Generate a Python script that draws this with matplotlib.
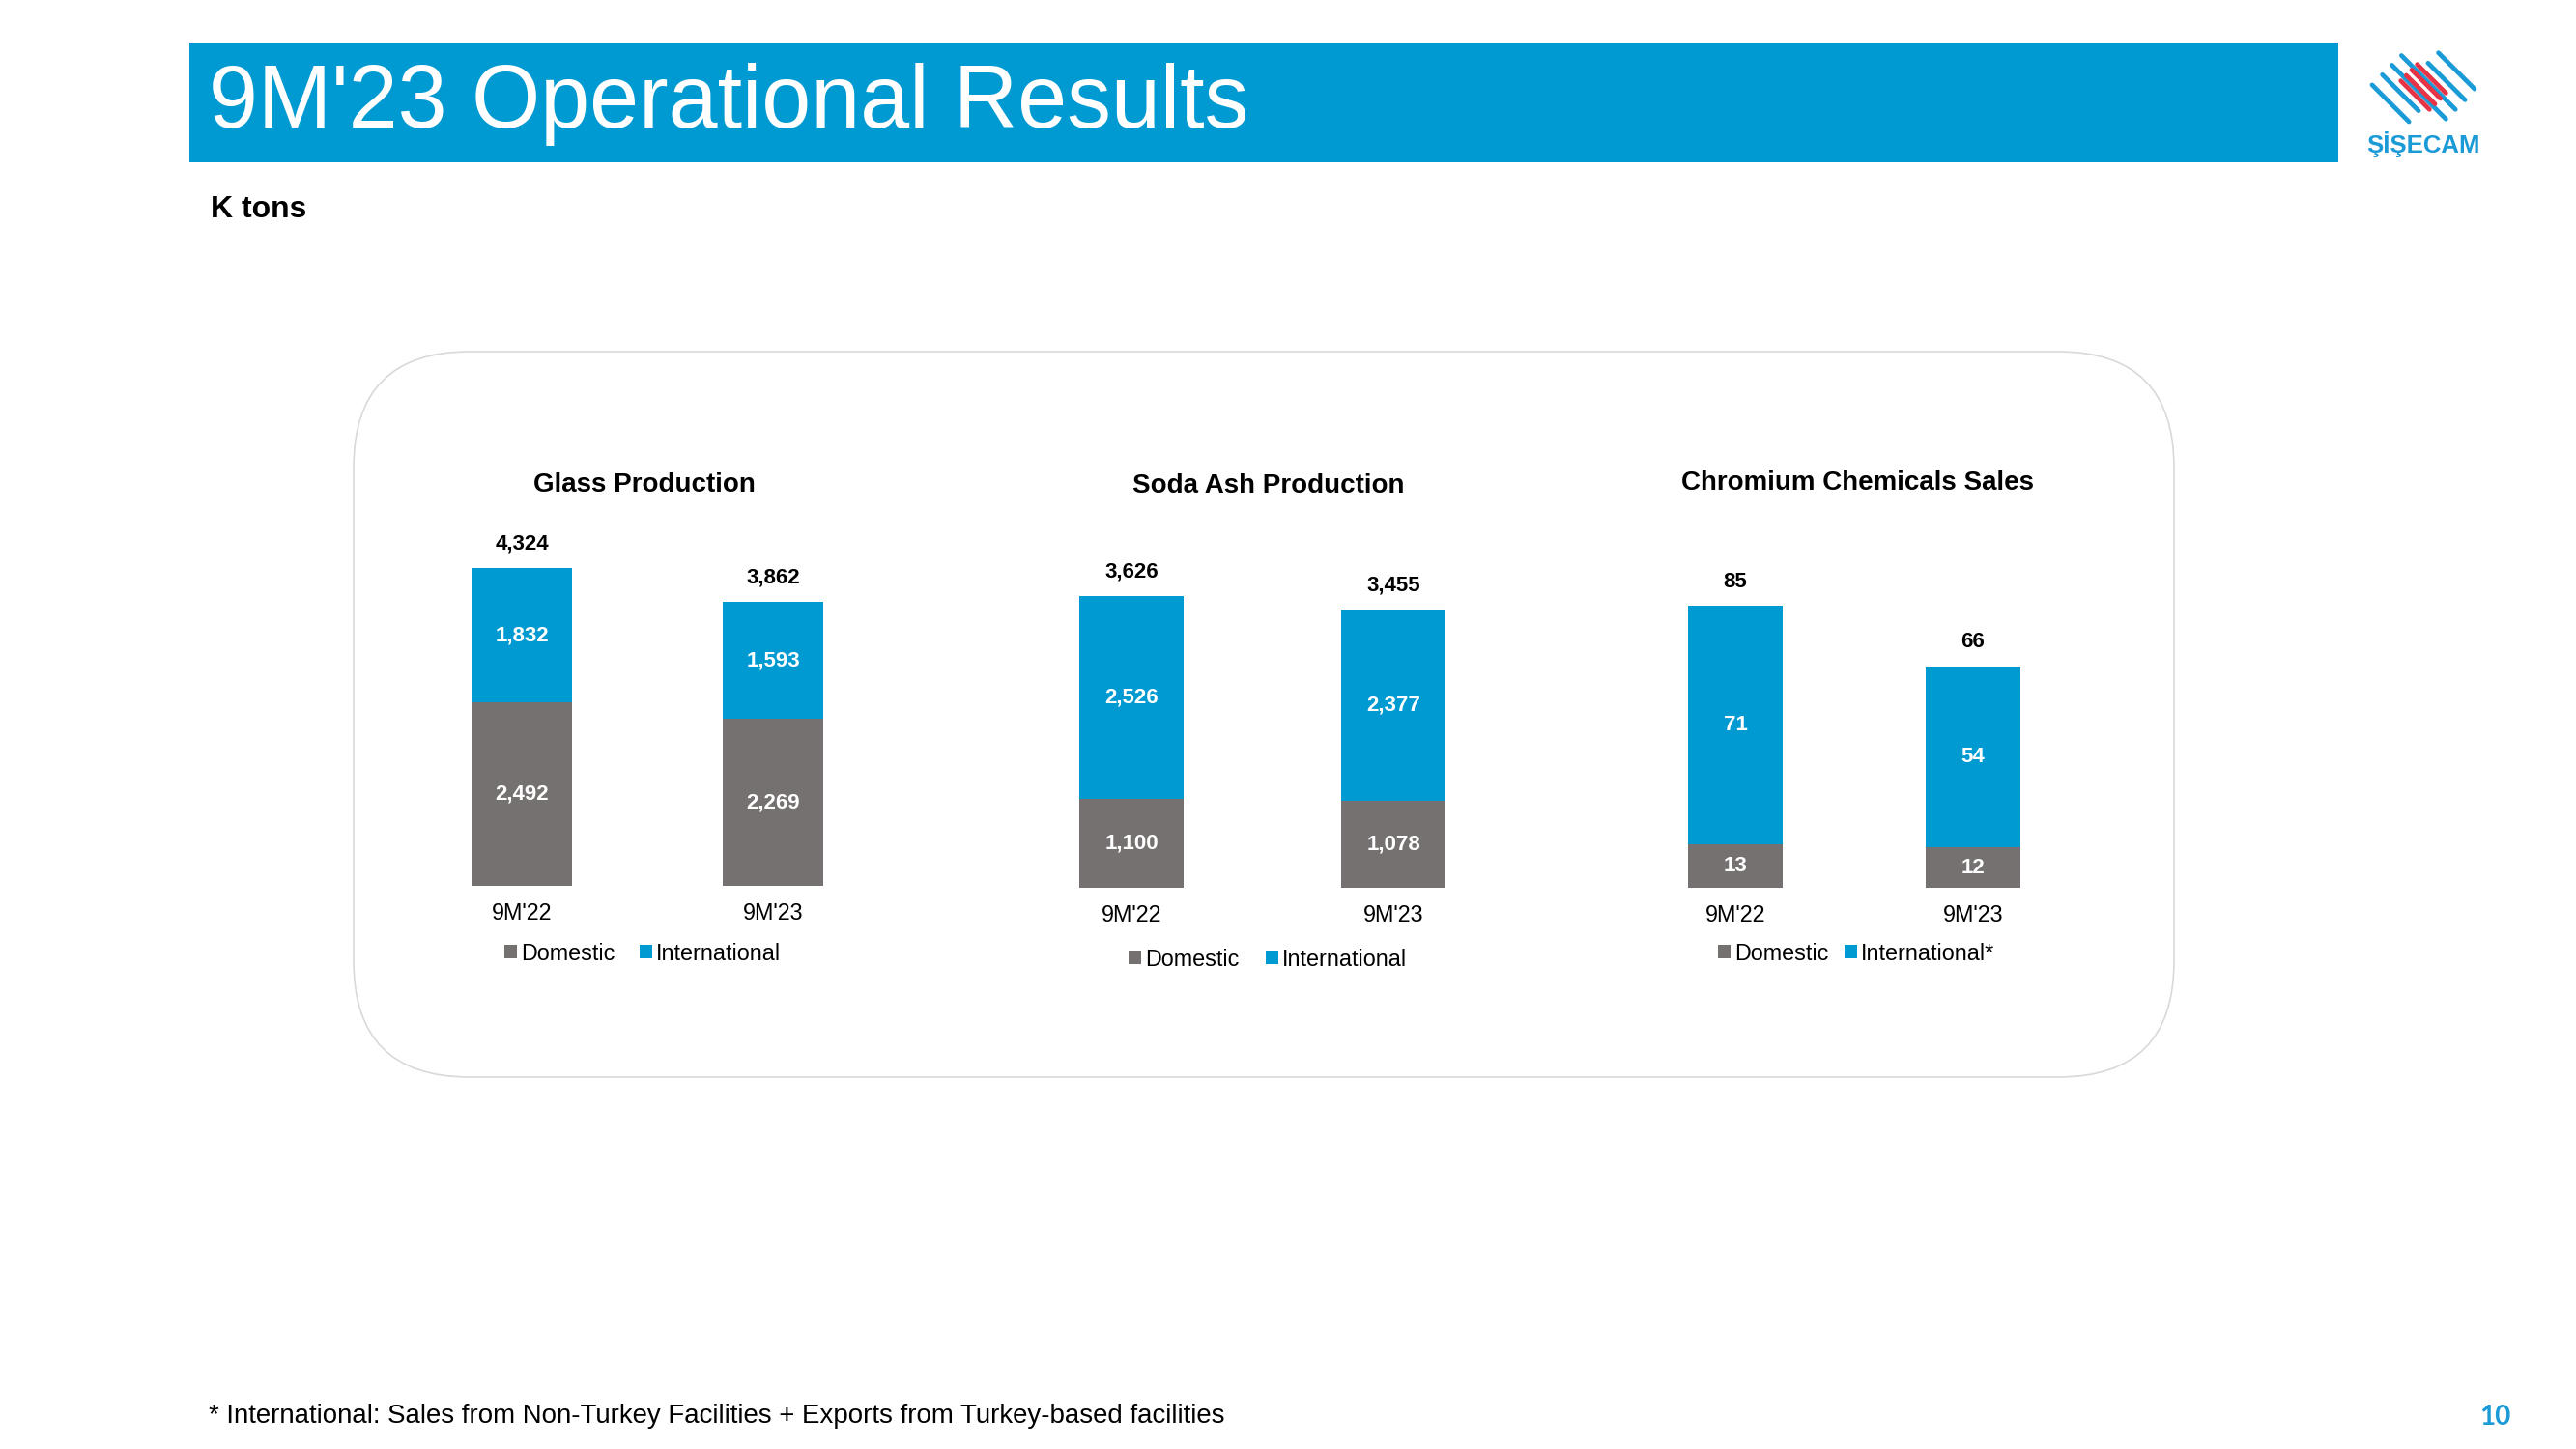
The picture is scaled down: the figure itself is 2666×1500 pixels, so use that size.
import numpy as np
import matplotlib
matplotlib.use("Agg")
import matplotlib.pyplot as plt
from matplotlib.patches import Rectangle, FancyBboxPatch

W, H = 2666, 1500
BLUE = '#009AD2'
GREY = '#767171'
plt.rcParams['font.family'] = ['Liberation Sans', 'DejaVu Sans']

# data (K tons)
periods = ["9M'22", "9M'23"]
glass_domestic = [2492, 2269]
glass_international = [1832, 1593]
glass_total = [4324, 3862]
soda_domestic = [1100, 1078]
soda_international = [2526, 2377]
soda_total = [3626, 3455]
chrom_domestic = [13, 12]
chrom_international = [71, 54]
chrom_total = [85, 66]

fig = plt.figure(figsize=(W / 100, H / 100), dpi=100)

# background canvas in pixel coordinates
bg = fig.add_axes([0, 0, 1, 1])
bg.set_xlim(0, W)
bg.set_ylim(H, 0)
bg.axis('off')

bg.add_patch(Rectangle((196, 44), 2224, 124, color=BLUE, lw=0))
bg.text(216, 132, "9M'23 Operational Results", fontsize=66, color='white',
        va='baseline', ha='left')
bg.text(218, 225, "K tons", fontsize=23, fontweight='bold', va='baseline')

bg.add_patch(FancyBboxPatch((366, 364), 1884, 751,
                            boxstyle="round,pad=0,rounding_size=120",
                            fc='white', ec='#D9D9D9', lw=1.2))

bg.text(216, 1473, "* International: Sales from Non-Turkey Facilities + Exports from Turkey-based facilities",
        fontsize=19.9, va='baseline', ha='left')
bg.text(2582, 1475, "10", fontsize=20, fontweight='bold', color='#1A9AD6',
        family=['Lato', 'DejaVu Sans'], va='baseline', ha='center')

# logo: diagonal stripes
cx, cy = 2508, 90
d = np.array([0.707, 0.707])
p = np.array([0.707, -0.707])
def seg(v, u0, u1, color, lw):
    a = np.array([cx, cy]) + u0 * d + v * p
    b = np.array([cx, cy]) + u1 * d + v * p
    bg.plot([a[0], b[0]], [a[1], b[1]], color=color, lw=lw, solid_capstyle='round')
for v, u0, u1 in [(-36, -39, 15), (-21, -39, 14), (-7, -39, 40), (7, -39, 40), (21, -14, 40), (36, -14, 39)]:
    seg(v, u0, u1, '#1A9AD6', 3.4)
for v in [-12, -4, 4, 12]:
    seg(v, -21, 21, '#E63346', 3.4)
bg.text(2508, 158, "ŞİŞECAM", fontsize=18.5, fontweight='bold', color='#1A9AD6',
        ha='center', va='baseline')

charts = [
    dict(title="Glass Production", dom=glass_domestic, intl=glass_international, tot=glass_total,
         labels=["Domestic", "International"], centers=(540, 800), base=917, top=588,
         title_xy=(667, 502), leg_xy=(665, 987), colsp=1.1),
    dict(title="Soda Ash Production", dom=soda_domestic, intl=soda_international, tot=soda_total,
         labels=["Domestic", "International"], centers=(1171, 1442), base=919, top=617,
         title_xy=(1313, 503), leg_xy=(1312, 993), colsp=1.2),
    dict(title="Chromium Chemicals Sales", dom=chrom_domestic, intl=chrom_international, tot=chrom_total,
         labels=["Domestic", "International*"], centers=(1796, 2042), base=919, top=627,
         title_xy=(1923, 500), leg_xy=(1921, 987), colsp=0.7),
]

for c in charts:
    c0, c1 = c['centers']
    step = c1 - c0
    left = c0 - step / 2
    ax = fig.add_axes([left / W, 1 - c['base'] / H, 2 * step / W, (c['base'] - c['top']) / H])
    ax.patch.set_alpha(0)
    x = np.arange(len(periods))
    stack = np.array(c['dom']) + np.array(c['intl'])
    ax.bar(x, c['dom'], width=0.4, color=GREY, label=c['labels'][0])
    ax.bar(x, c['intl'], width=0.4, bottom=c['dom'], color=BLUE, label=c['labels'][1])
    ax.set_xlim(-0.5, 1.5)
    ax.set_ylim(0, stack.max())
    ax.axis('off')
    for i in range(len(periods)):
        ax.text(x[i], c['dom'][i] / 2, f"{c['dom'][i]:,}", color='white', fontsize=16,
                fontweight='bold', ha='center', va='center')
        ax.text(x[i], c['dom'][i] + c['intl'][i] / 2, f"{c['intl'][i]:,}", color='white',
                fontsize=16, fontweight='bold', ha='center', va='center')
        ax.annotate(f"{c['tot'][i]:,}", (x[i], stack[i]), xytext=(0, 18),
                    textcoords='offset points', ha='center', va='center',
                    fontsize=16, fontweight='bold', annotation_clip=False)
        ax.annotate(periods[i], (x[i], 0), xytext=(0, -20.2), textcoords='offset points',
                    ha='center', va='center', fontsize=16.8, annotation_clip=False)
    tx, ty = c['title_xy']
    fig.text(tx / W, 1 - ty / H, c['title'], fontsize=20, fontweight='bold',
             ha='center', va='center')
    lx, ly = c['leg_xy']
    ax.legend(loc='center', bbox_to_anchor=(lx / W, 1 - ly / H), bbox_transform=fig.transFigure,
              ncol=2, frameon=False, fontsize=16.8, handlelength=0.55, handleheight=0.55,
              handletextpad=0.17, columnspacing=c['colsp'], borderpad=0)

fig.savefig("out.png", dpi=100)
